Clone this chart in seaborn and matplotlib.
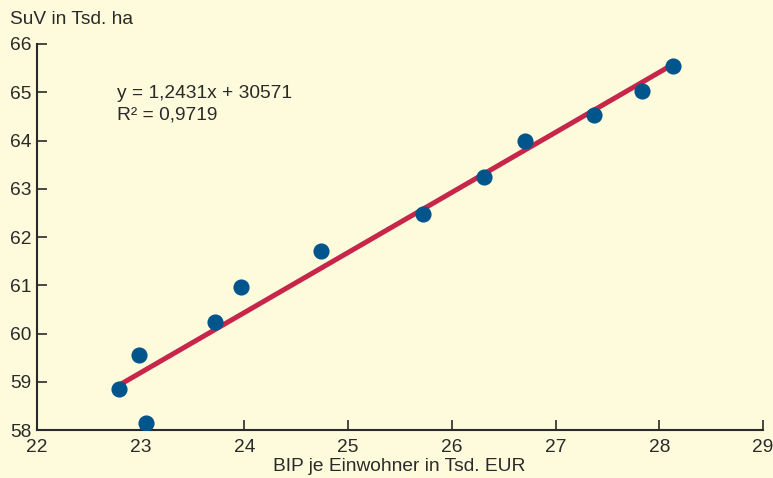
import matplotlib
matplotlib.use("Agg")
import matplotlib.pyplot as plt
import seaborn as sns
import pandas as pd

# data
bip = [22.79, 22.98, 23.05, 23.72, 23.97, 24.74, 25.72, 26.31, 26.71, 27.37, 27.83, 28.13]
suv = [58.85, 59.56, 58.15, 60.25, 60.97, 61.72, 62.47, 63.24, 63.99, 64.53, 65.03, 65.55]
x_ticks = [22, 23, 24, 25, 26, 27, 28, 29]
y_ticks = [58, 59, 60, 61, 62, 63, 64, 65, 66]

bg = '#fdfbdc'
txt = '#2a2a2a'
fs = 13.8
sns.set_style('ticks')
plt.rcParams['font.family'] = ['Liberation Sans', 'DejaVu Sans']

df = pd.DataFrame({'bip': bip, 'suv': suv})

fig = plt.figure(figsize=(7.73, 4.78), dpi=100, facecolor=bg)
ax = fig.add_axes([0.048, 0.1, 0.939, 0.808])
ax.set_facecolor(bg)

sns.regplot(data=df, x='bip', y='suv', ax=ax, ci=None,
            scatter_kws=dict(s=135, color='#00558c', alpha=1, zorder=3, linewidths=0),
            line_kws=dict(color='#c8254a', lw=3.6, zorder=2))

ax.set_xlim(22, 29)
ax.set_ylim(58, 66)
ax.set_xticks(x_ticks)
ax.set_yticks(y_ticks)
ax.tick_params(direction='in', length=7, width=1.2, color=txt,
               labelsize=fs, labelcolor=txt)
ax.tick_params(axis='x', pad=6)
ax.tick_params(axis='y', pad=4)
for side in ['top', 'right']:
    ax.spines[side].set_visible(False)
for side in ['left', 'bottom']:
    ax.spines[side].set_linewidth(1.5)
    ax.spines[side].set_color(txt)

ax.set_xlabel('')
ax.set_ylabel('')
fig.text(0.013, 0.96, 'SuV in Tsd. ha', fontsize=fs, color=txt, va='center')
fig.text(0.517, 0.024, 'BIP je Einwohner in Tsd. EUR', fontsize=fs, color=txt,
         ha='center', va='center')

ax.text(22.77, 64.98, 'y = 1,2431x + 30571', fontsize=fs, color=txt, va='center')
ax.text(22.77, 64.52, 'R² = 0,9719', fontsize=fs, color=txt, va='center')

fig.savefig('out.png', dpi=100, facecolor=bg)
